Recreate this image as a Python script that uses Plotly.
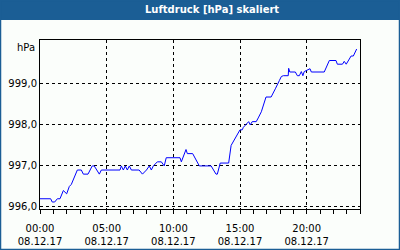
import plotly.graph_objects as go

# time in minutes after 08.12.17 00:00
minutes = [0, 48, 55, 66, 78, 90, 105, 120, 132, 141, 168, 186, 195, 216, 235, 244, 267, 276,
           360, 366, 375, 384, 393, 402, 411, 446, 461, 479, 492, 501, 510, 528, 546, 559, 568,
           630, 636, 657, 663, 687, 717, 770, 792, 798, 811, 849, 860, 870, 879, 892, 900, 910,
           915, 939, 946, 955, 973, 982, 996, 1017, 1040, 1059, 1068, 1077, 1086, 1095, 1117,
           1119, 1124, 1149, 1158, 1167, 1176, 1183, 1189, 1215, 1221, 1279, 1302, 1332, 1338,
           1361, 1369, 1378, 1400, 1410, 1425]
pressure = [996.2, 996.2, 996.12, 996.12, 996.2, 996.2, 996.4, 996.32, 996.5, 996.55, 996.9, 996.9,
            996.8, 996.8, 997.0, 997.0, 996.8, 996.9, 996.9, 997.0, 996.9, 997.0, 996.9, 997.0,
            996.9, 996.9, 996.8, 996.9, 997.0, 996.9, 997.0, 997.1, 997.1, 997.0, 997.2, 997.2,
            997.1, 997.4, 997.3, 997.3, 997.0, 997.0, 996.8, 996.8, 997.07, 997.07, 997.5, 997.6,
            997.68, 997.8, 997.88, 997.88, 997.94, 998.08, 998.0, 998.08, 998.08, 998.17, 998.32,
            998.68, 998.68, 998.88, 999.0, 999.08, 999.18, 999.2, 999.2, 999.38, 999.29, 999.29,
            999.2, 999.2, 999.3, 999.2, 999.3, 999.37, 999.29, 999.29, 999.57, 999.57, 999.48,
            999.48, 999.55, 999.48, 999.68, 999.68, 999.85]

x_tickvals = [0, 300, 600, 900, 1200]
x_ticktext = ["00:00<br>08.12.17", "05:00<br>08.12.17", "10:00<br>08.12.17",
              "15:00<br>08.12.17", "20:00<br>08.12.17"]
y_tickvals = [996.0, 997.0, 998.0, 999.0]
y_ticktext = ["996,0", "997,0", "998,0", "999,0"]
title_text = "Luftdruck [hPa] skaliert"
unit_text = "hPa"

BLUE = "#1b5e95"
BG = "#fbfefb"
FONT = "DejaVu Sans"

fig = go.Figure()
fig.add_trace(go.Scatter(x=minutes, y=pressure, mode="lines",
                         line=dict(color="#0000ff", width=1), hoverinfo="skip"))

axis_common = dict(showline=True, mirror=True, linecolor="black", linewidth=1,
                   showgrid=True, gridcolor="black", gridwidth=1, griddash="3px,3px",
                   zeroline=False, automargin=False,
                   tickfont=dict(family=FONT, size=10, color="black"))

fig.update_xaxes(range=[0, 1440], tickmode="array", tickvals=x_tickvals, ticktext=x_ticktext,
                 ticks="outside", ticklen=4, tickcolor="black", ticklabelstandoff=6,
                 minor=dict(dtick=60, tick0=0, ticks="outside", ticklen=4, tickcolor="black",
                            showgrid=False),
                 **axis_common)
fig.update_yaxes(range=[995.95, 1000.07], tickmode="array", tickvals=y_tickvals,
                 ticktext=y_ticktext, ticks="", **axis_common)

# paper coordinate helpers: plot area is px x 40..360, y 40..209
def px(x):
    return (x - 40) / 320.0

def py(y):
    return (209 - y) / 169.0

fig.update_layout(
    width=400, height=250,
    margin=dict(l=40, r=40, t=40, b=41),
    paper_bgcolor=BG, plot_bgcolor=BG,
    showlegend=False,
    shapes=[
        dict(type="rect", xref="paper", yref="paper", x0=px(0), x1=px(400), y0=py(20), y1=py(0),
             fillcolor=BLUE, line=dict(width=0), layer="above"),
        dict(type="rect", xref="paper", yref="paper", x0=px(0), x1=px(400), y0=py(250), y1=py(0),
             fillcolor="rgba(0,0,0,0)", line=dict(color=BLUE, width=2.5), layer="above"),
    ],
    annotations=[
        dict(text="<b>" + title_text + "</b>", xref="paper", yref="paper", x=px(211.5), y=py(10),
             xanchor="center", yanchor="middle", showarrow=False,
             font=dict(family=FONT, size=10, color="white")),
        dict(text=unit_text, xref="paper", yref="paper", x=px(37), y=py(47),
             xanchor="right", yanchor="middle", showarrow=False,
             font=dict(family=FONT, size=10, color="black")),
    ],
)

fig.write_html("out.html")
